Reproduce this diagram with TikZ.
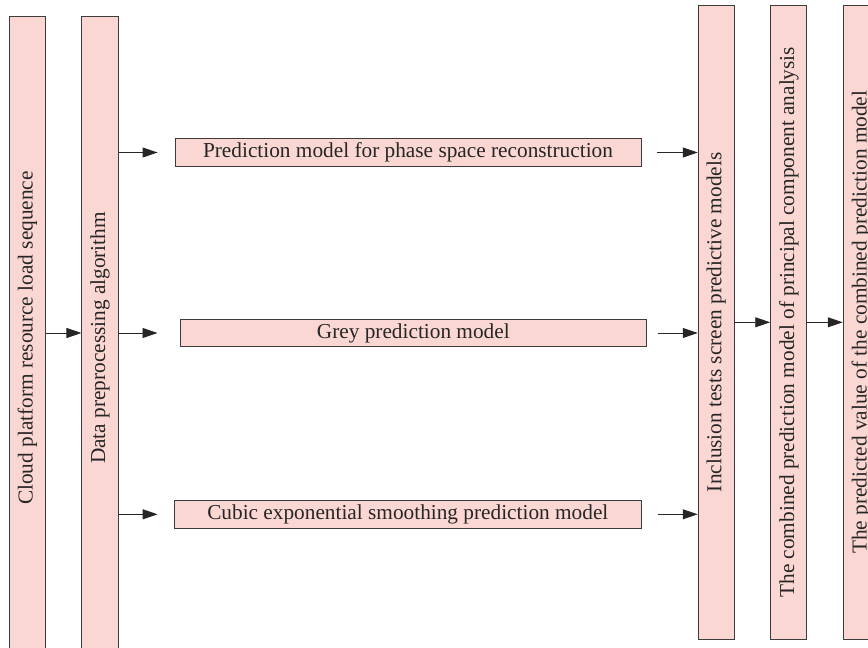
\documentclass[tikz,border=0pt]{standalone}
\usepackage{fontspec}
\setmainfont{Liberation Serif}
\usetikzlibrary{positioning,arrows.meta}
\definecolor{boxpink}{RGB}{250,215,210}
\definecolor{boxline}{RGB}{60,60,60}
\begin{document}
\begin{tikzpicture}[x=1pt, y=1pt, font=\fontsize{21.3}{24}\selectfont,
  box/.style={draw=boxline, line width=0.9pt, fill=boxpink, text=black!85, inner sep=0pt, minimum height=27.5pt},
  col/.style={box, rotate=90, minimum height=36.2pt},
  arr/.style={-{Triangle[length=15pt, width=10pt]}, line width=0.9pt, black!85}]
\useasboundingbox (0,0) rectangle (868,648);
\node[col, minimum width=644pt] (load) at (27.5,310) {Cloud platform resource load sequence};
\node[col, minimum width=644pt] (prep) at (100,310) {Data preprocessing algorithm};
\node[box, minimum width=466pt] (phase) at (408,495.5) {Prediction model for phase space reconstruction};
\node[box, minimum width=466.7pt] (grey) at (413.3,315) {Grey prediction model};
\node[box, minimum width=466.5pt] (cubic) at (407.8,133.7) {Cubic exponential smoothing prediction model};
\node[col, minimum width=634pt] (screen) at (716.3,325.7) {Inclusion tests screen predictive models};
\node[col, minimum width=634pt] (pca) at (788.8,325.7) {The combined prediction model of principal component analysis};
\node[col, minimum width=634pt] (value) at (861.3,325.7) {The predicted value of the combined prediction model};
% input side
\draw[arr] (load.south |- grey.west) -- (prep.north |- grey.west);
\draw[arr, shorten >=17pt] (prep.south |- phase.west) -- (phase.west);
\draw[arr, shorten >=22pt] (prep.south |- grey.west) -- (grey.west);
\draw[arr, shorten >=16.5pt] (prep.south |- cubic.west) -- (cubic.west);
% screening and combination
\draw[arr, shorten <=16pt] (phase.east) -- (screen.north |- phase.east);
\draw[arr, shorten <=10.5pt] (grey.east) -- (screen.north |- grey.east);
\draw[arr, shorten <=16pt] (cubic.east) -- (screen.north |- cubic.east);
\draw[arr] (screen.south) -- (pca.north);
\draw[arr] (pca.south) -- (value.north);
\end{tikzpicture}
\end{document}
